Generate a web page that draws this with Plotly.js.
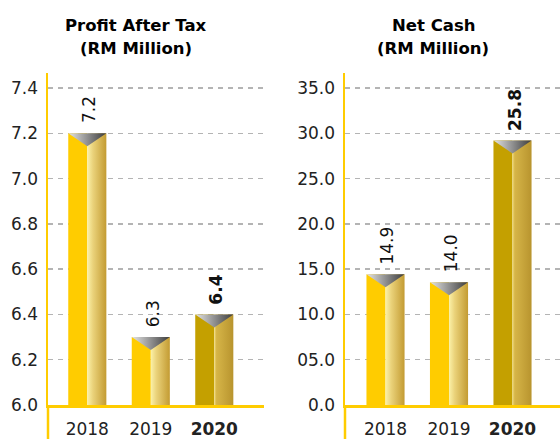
<!DOCTYPE html>
<html>
<head>
<meta charset="utf-8">
<script src="https://cdn.plot.ly/plotly-3.0.1.min.js"></script>
<style>html,body{margin:0;padding:0;background:#fff;}#chart{width:560px;height:439px;}</style>
</head>
<body>
<div id="chart"></div>
<script>
// ---- data ----
const years = ['2018', '2019', '2020'];
const yearTickText = ['2018', '2019', '<b>2020</b>'];

const profitValues = [7.2, 6.3, 6.4];
const profitLabels = ['7.2', '6.3', '<b>6.4</b>'];
const profitTickVals = [6.0, 6.2, 6.4, 6.6, 6.8, 7.0, 7.2, 7.4];
const profitTickText = ['6.0', '6.2', '6.4', '6.6', '6.8', '7.0', '7.2', '7.4'];

const cashValues = [14.45, 13.55, 29.2];
const cashLabels = ['14.9', '14.0', '<b>25.8</b>'];
const cashTickVals = [0, 5, 10, 15, 20, 25, 30, 35];
const cashTickText = ['0.0', '05.0', '10.0', '15.0', '20.0', '25.0', '30.0', '35.0'];

// ---- style ----
const FONT = 'DejaVu Sans, sans-serif';
const YELLOW = '#FFCC00';
const GOLD = '#C4A000';
const HALF = 0.3;           // half bar width in category units
const PLOT_PX_H = 332;      // plot area height in px
const TRI_PX = 13;          // depth of the top triangle in px

const traces = [];
const annotations = [];

function panel(xa, ya, values, labels, yRange) {
  const idx = values.map((v, i) => i);
  const base = yRange[0];
  const depth = (yRange[1] - yRange[0]) * TRI_PX / PLOT_PX_H;
  // left (solid) halves
  traces.push({
    type: 'bar', x: idx, y: values, xaxis: xa, yaxis: ya,
    width: HALF, offset: -HALF,
    marker: {color: idx.map(i => i === 2 ? GOLD : YELLOW), line: {width: 0}},
    hoverinfo: 'skip', showlegend: false
  });
  // right (gradient) halves
  idx.forEach(i => {
    const v = values[i];
    const cs = i === 2
      ? [[0, '#F0DA7A'], [0.12, '#D6B548'], [1, '#B8942E']]
      : [[0, '#FBF1A8'], [0.3, '#EAD27A'], [1, '#C39B32']];
    traces.push({
      type: 'scatter', mode: 'lines', xaxis: xa, yaxis: ya,
      x: [i, i + HALF, i + HALF, i, i],
      y: [base, base, v, v, base],
      fill: 'toself', line: {width: 0},
      fillgradient: {type: 'horizontal', colorscale: cs},
      hoverinfo: 'skip', showlegend: false
    });
  });
  // top triangles
  idx.forEach(i => {
    const v = values[i];
    traces.push({
      type: 'scatter', mode: 'lines', xaxis: xa, yaxis: ya,
      x: [i - HALF, i + HALF, i, i - HALF],
      y: [v, v, v - depth, v],
      fill: 'toself', line: {width: 0},
      fillgradient: {type: 'horizontal', colorscale: [[0, '#E4E4E4'], [1, '#3C3C3C']]},
      hoverinfo: 'skip', showlegend: false
    });
  });
  // value labels
  idx.forEach(i => {
    annotations.push({
      xref: xa, yref: ya, x: i + 0.03, y: values[i],
      text: labels[i], textangle: -90, showarrow: false,
      xanchor: 'center', yanchor: 'bottom', yshift: 8,
      font: {family: FONT, size: 17, color: '#111'}
    });
  });
}

const profitRange = [6.0, 7.4664];
const cashRange = [0, 36.66];
panel('x', 'y', profitValues, profitLabels, profitRange);
panel('x2', 'y2', cashValues, cashLabels, cashRange);

// titles
function title(xpx, lines) {
  lines.forEach((t, k) => {
    annotations.push({
      xref: 'paper', yref: 'paper', x: xpx / 560, y: 1 - (25 + 23 * k) / 439,
      xanchor: 'center', yanchor: 'middle', showarrow: false,
      text: '<b>' + t + '</b>', font: {family: FONT, size: 16.5, color: '#000'}
    });
  });
}
title(136, ['Profit After Tax', '(RM Million)']);
title(433, ['Net Cash', '(RM Million)']);

function xAxis(domain, range, anchor) {
  return {
    domain: domain, range: range, anchor: anchor,
    tickvals: [0, 1, 2], ticktext: yearTickText,
    showgrid: false, zeroline: false,
    showline: true, linecolor: YELLOW, linewidth: 3,
    ticks: '', ticklabelstandoff: 7,
    tickfont: {family: FONT, size: 17, color: '#222'},
    fixedrange: true
  };
}
function yAxis(range, tv, tt, anchor) {
  return {
    domain: [34 / 439, 366 / 439], range: range, anchor: anchor,
    tickvals: tv, ticktext: tt,
    showgrid: true, gridcolor: '#B4B4B4', gridwidth: 1.5, griddash: '5px,5px',
    zeroline: false,
    showline: true, linecolor: YELLOW, linewidth: 2.5,
    ticks: '', ticklabelstandoff: 4,
    tickfont: {family: FONT, size: 17, color: '#222'},
    fixedrange: true
  };
}

const layout = {
  width: 560, height: 439,
  margin: {l: 0, r: 0, t: 0, b: 0},
  paper_bgcolor: '#fff', plot_bgcolor: '#fff',
  showlegend: false,
  xaxis: xAxis([48 / 560, 264 / 560], [-0.619, 2.783], 'y'),
  yaxis: yAxis(profitRange, profitTickVals, profitTickText, 'x'),
  xaxis2: xAxis([345 / 560, 1], [-0.638, 2.748], 'y2'),
  yaxis2: yAxis(cashRange, cashTickVals, cashTickText, 'x2'),
  annotations: annotations,
  shapes: [
    {type: 'line', xref: 'x domain', yref: 'y domain', x0: 0, x1: 0, y0: 0, y1: -0.12,
     line: {color: YELLOW, width: 2.5}},
    {type: 'line', xref: 'x2 domain', yref: 'y2 domain', x0: 0, x1: 0, y0: 0, y1: -0.12,
     line: {color: YELLOW, width: 2.5}}
  ]
};

Plotly.newPlot('chart', traces, layout, {staticPlot: true, displayModeBar: false});
</script>
</body>
</html>
